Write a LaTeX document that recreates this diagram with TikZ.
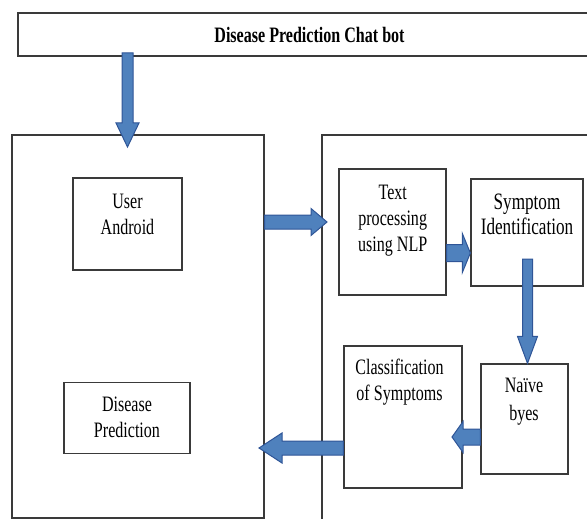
\documentclass[tikz,border=0pt]{standalone}
\usepackage{fontspec}
\setmainfont{Liberation Serif}[FakeStretch=0.73]
\usetikzlibrary{calc}

\definecolor{arrowfill}{HTML}{4F81BD}
\definecolor{arrowedge}{HTML}{2F5597}
\definecolor{boxline}{HTML}{3A3A3A}

\tikzset{
  panel/.style={draw=boxline, line width=1.3pt, inner sep=0pt},
  stage/.style={draw=boxline, line width=1.3pt, inner sep=0pt},
  stagetext/.style={align=center, inner sep=0pt, font=\fontsize{22}{26}\selectfont},
  fat/.style={fill=arrowfill, draw=arrowedge, line width=1pt, line join=miter}
}

% block arrow: start, tip, half shaft, half head, head length
\newcommand{\fatarrow}[5]{%
  \coordinate (fa s) at (#1);
  \coordinate (fa t) at (#2);
  \coordinate (fa b) at ($(fa t)!#5!(fa s)$);
  \draw[fat] ($(fa s)!#3!90:(fa t)$) -- ($(fa b)!#3!90:(fa t)$) -- ($(fa b)!#4!90:(fa t)$)
    -- (fa t) -- ($(fa b)!#4!-90:(fa t)$) -- ($(fa b)!#3!-90:(fa t)$) -- ($(fa s)!#3!-90:(fa t)$) -- cycle;}

\begin{document}
\begin{tikzpicture}[x=1pt, y=-1pt]
  \useasboundingbox (0,0) rectangle (587,519);
  % title bar
  \node [panel, line width=1.6pt, minimum width=583pt, minimum height=43pt,
         font=\bfseries\fontsize{22}{26}\selectfont] (title) at (309.5,34.5) {Disease Prediction Chat bot};
  % two panels
  \node [panel, minimum width=252pt, minimum height=383pt] (leftpanel) at (138,326.5) {};
  \node [panel, minimum width=280pt, minimum height=395pt] (rightpanel) at (462,332.5) {};
  % stages
  \node [stage, minimum width=109pt, minimum height=92pt] (user) at (127.5,224) {};
  \node [stage, minimum width=126pt, minimum height=71pt] (disease) at (127,418) {};
  \node [stage, minimum width=107pt, minimum height=126pt] (nlp) at (392.5,232) {};
  \node [stage, minimum width=112pt, minimum height=107pt] (symptom) at (527,232.5) {};
  \node [stage, minimum width=118pt, minimum height=142pt] (classify) at (403,417) {};
  \node [stage, minimum width=87pt, minimum height=110pt] (naive) at (524.5,419) {};
  \node [stagetext] (user text) at (127.5,214.5) {User\\Android};
  \node [stagetext] (disease text) at (127,417.5) {Disease\\Prediction};
  \node [stagetext] (nlp text) at (392.7,221) {Text\\processing\\using NLP};
  \node [stagetext, font=\fontsize{23.5}{25}\selectfont] (symptom text) at (527,214.5) {Symptom\\Identification};
  \node [stagetext] (classify text) at (399.5,382) {Classification\\of Symptoms};
  \node [stagetext, font=\fontsize{22}{28}\selectfont] (naive text) at (524,402) {Naïve\\byes};
  % block arrows
  \fatarrow{127.5,53}{127.5,147}{5.5pt}{11.5pt}{24pt}
  \fatarrow{leftpanel.east |- 0,222}{327,222}{7pt}{13.5pt}{16pt}
  \fatarrow{nlp.east |- 0,253}{symptom.west |- 0,253}{8.5pt}{19.5pt}{8pt}
  \fatarrow{527.5,259}{527.5,0 |- naive.north}{5pt}{10pt}{27pt}
  \fatarrow{naive.west |- 0,437}{452,437}{8pt}{15.5pt}{11pt}
  \fatarrow{classify.west |- 0,448}{259,448}{7pt}{15pt}{23pt}
\end{tikzpicture}
\end{document}
